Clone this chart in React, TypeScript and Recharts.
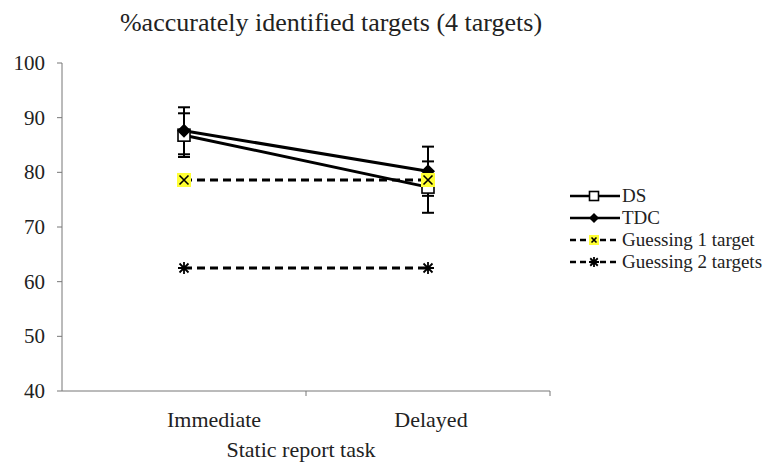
import React from "react";
import { ComposedChart, Line, XAxis, YAxis, ErrorBar } from "recharts";

const categories = ["Immediate", "Delayed"];
const dsValues = [86.8, 77.3];
const dsErrors = [4.0, 4.7];
const tdcValues = [87.6, 80.2];
const tdcErrors = [4.3, 4.5];
const guess1Values = [78.6, 78.6];
const guess2Values = [62.5, 62.5];
const yTicks = [40, 50, 60, 70, 80, 90, 100];

const data = categories.map((cat, i) => ({
  cat,
  ds: dsValues[i],
  dsErr: dsErrors[i],
  tdc: tdcValues[i],
  tdcErr: tdcErrors[i],
  g1: guess1Values[i],
  g2: guess2Values[i],
}));

const FONT = "Liberation Serif";
const W = 783;
const H = 462;
const PAD = 122; // half a category band

function SquareDot({ cx, cy, size = 12 }: any) {
  if (cx == null || cy == null) return null;
  return (
    <rect
      x={cx - size / 2}
      y={cy - size / 2}
      width={size}
      height={size}
      fill="#fff"
      stroke="#000"
      strokeWidth={1.6}
    />
  );
}

function DiamondDot({ cx, cy, size = 7 }: any) {
  if (cx == null || cy == null) return null;
  return (
    <path
      d={`M${cx},${cy - size} L${cx + size},${cy} L${cx},${cy + size} L${cx - size},${cy} Z`}
      fill="#000"
    />
  );
}

function CrossDot({ cx, cy, size = 14 }: any) {
  if (cx == null || cy == null) return null;
  const h = size / 2;
  const c = h - 2.5;
  return (
    <g>
      <rect x={cx - h} y={cy - h} width={size} height={size} fill="#ffff33" />
      <path
        d={`M${cx - c},${cy - c} L${cx + c},${cy + c} M${cx + c},${cy - c} L${cx - c},${cy + c}`}
        stroke="#000"
        strokeWidth={1.6}
      />
    </g>
  );
}

function StarDot({ cx, cy, size = 6 }: any) {
  if (cx == null || cy == null) return null;
  const d = size * 0.75;
  return (
    <path
      d={`M${cx},${cy - size} L${cx},${cy + size} M${cx - d},${cy - d} L${cx + d},${cy + d} M${cx + d},${cy - d} L${cx - d},${cy + d} M${cx - size},${cy} L${cx + size},${cy}`}
      stroke="#000"
      strokeWidth={1.8}
    />
  );
}

const dotFor = (Comp: any) => (props: any) => (
  <g key={`${props.dataKey}-${props.index}`}>
    <Comp cx={props.cx} cy={props.cy} />
  </g>
);

function XTick({ x, y, payload, index }: any) {
  // the first label sits a bit right of its point in the original
  const dx = index === 0 ? 30 : 3;
  return (
    <g>
      <line x1={x + PAD} y1={y - 8} x2={x + PAD} y2={y - 3} stroke="#777" strokeWidth={1} />
      <text
        x={x + dx}
        y={y + 28}
        textAnchor="middle"
        fontFamily={FONT}
        fontSize={22}
        fill="#222"
      >
        {payload.value}
      </text>
    </g>
  );
}

function YTick({ x, y, payload }: any) {
  return (
    <text
      x={x}
      y={y + 7}
      textAnchor="end"
      fontFamily={FONT}
      fontSize={21}
      fill="#222"
    >
      {payload.value}
    </text>
  );
}

const legendItems = [
  { label: "DS", dash: false, Comp: SquareDot, size: 9 },
  { label: "TDC", dash: false, Comp: DiamondDot, size: 5 },
  { label: "Guessing 1 target", dash: true, Comp: CrossDot, size: 10 },
  { label: "Guessing 2 targets", dash: true, Comp: StarDot, size: 5 },
];
const legendRowsY = [0, 22, 44, 66];

function ChartLegend() {
  return (
    <svg
      width={215}
      height={110}
      style={{ position: "absolute", left: 568, top: 176 }}
    >
      {legendItems.map((it, i) => {
        const cy = 20 + legendRowsY[i];
        return (
          <g key={it.label}>
            <line
              x1={2}
              y1={cy}
              x2={52}
              y2={cy}
              stroke="#000"
              strokeWidth={2.5}
              strokeDasharray={it.dash ? "6 4" : undefined}
            />
            <it.Comp cx={26} cy={cy} size={it.size} />
            <text x={54} y={cy + 6} fontFamily={FONT} fontSize={19} fill="#222">
              {it.label}
            </text>
          </g>
        );
      })}
    </svg>
  );
}

export default function App() {
  return (
    <div
      style={{
        position: "fixed",
        left: 0,
        top: 0,
        width: W,
        height: H,
        background: "#fff",
      }}
    >
      <svg width={W} height={44} style={{ position: "absolute", left: 0, top: 0 }}>
        <text x={331} y={31} textAnchor="middle" fontFamily={FONT} fontSize={26} fill="#222">
          %accurately identified targets (4 targets)
        </text>
      </svg>
      <ComposedChart
        width={W}
        height={H}
        data={data}
        margin={{ top: 63, right: 233, left: 0, bottom: 0 }}
      >
        <XAxis
          dataKey="cat"
          padding={{ left: PAD, right: PAD }}
          height={71}
          interval={0}
          stroke="#777"
          tickLine={false}
          tick={<XTick />}
          label={{
            value: "Static report task",
            position: "insideBottom",
            offset: 5,
            dx: -5,
            fontFamily: FONT,
            fontSize: 22,
            fill: "#222",
          }}
        />
        <YAxis
          domain={[40, 100]}
          ticks={yTicks}
          width={62}
          stroke="#777"
          tickSize={5}
          tickMargin={12}
          tick={<YTick />}
        />
        <Line
          dataKey="g2"
          stroke="#000"
          strokeWidth={2.8}
          strokeDasharray="8 5"
          dot={dotFor(StarDot)}
          isAnimationActive={false}
        />
        <Line
          dataKey="ds"
          stroke="#000"
          strokeWidth={3}
          dot={dotFor(SquareDot)}
          isAnimationActive={false}
        >
          <ErrorBar dataKey="dsErr" width={6} stroke="#000" strokeWidth={2} />
        </Line>
        <Line
          dataKey="tdc"
          stroke="#000"
          strokeWidth={3}
          dot={dotFor(DiamondDot)}
          isAnimationActive={false}
        >
          <ErrorBar dataKey="tdcErr" width={6} stroke="#000" strokeWidth={2} />
        </Line>
        <Line
          dataKey="g1"
          stroke="#000"
          strokeWidth={2.8}
          strokeDasharray="8 5"
          dot={dotFor(CrossDot)}
          isAnimationActive={false}
        />
      </ComposedChart>
      <ChartLegend />
    </div>
  );
}
